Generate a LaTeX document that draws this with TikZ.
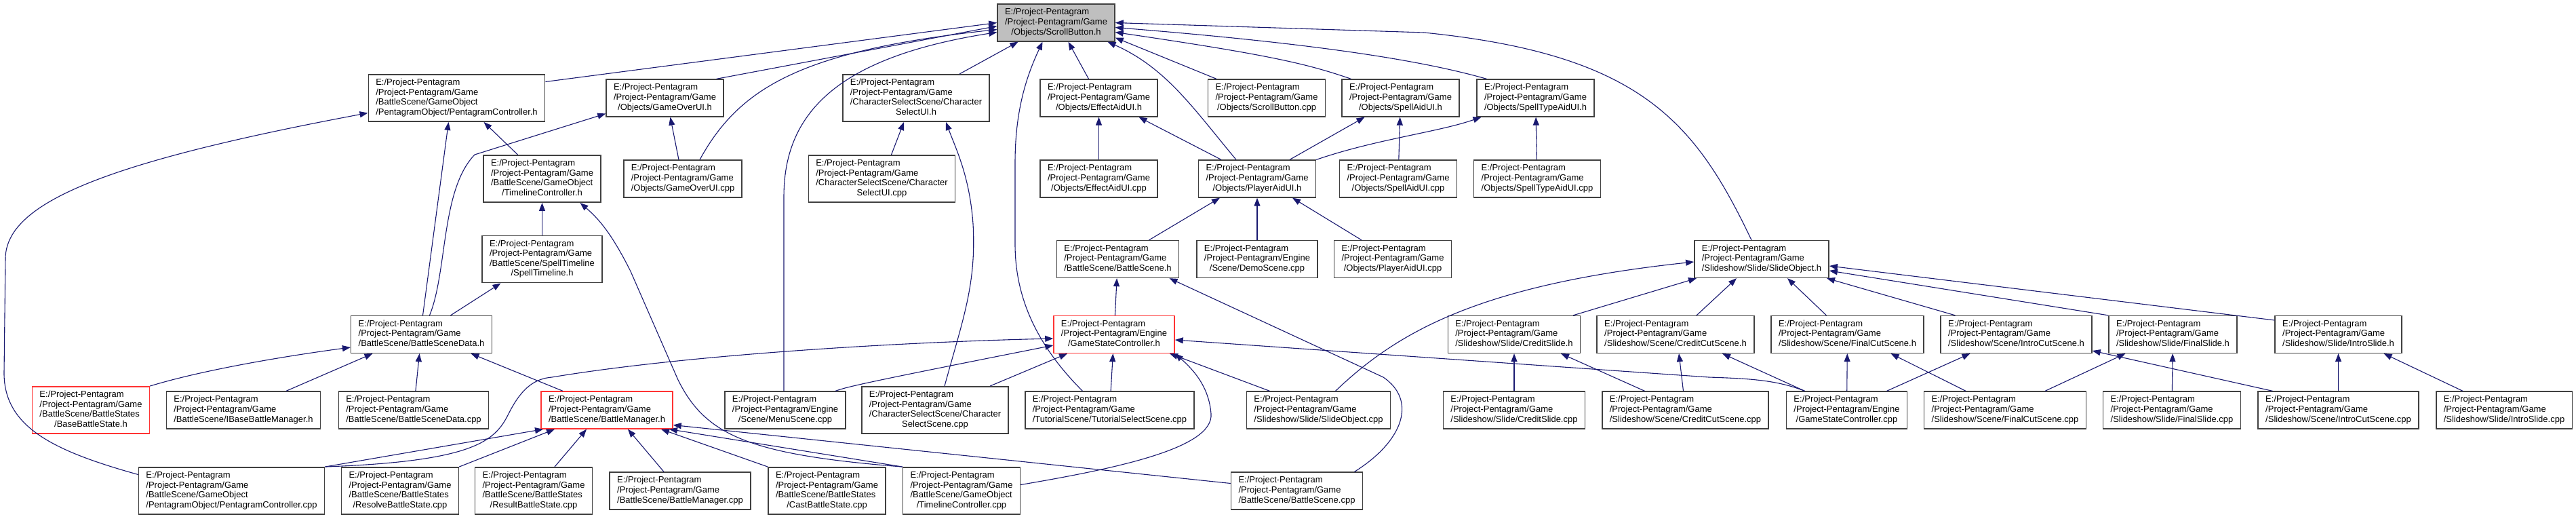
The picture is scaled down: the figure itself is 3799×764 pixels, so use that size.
\documentclass[tikz,border=0pt]{standalone}
\usepackage{fontspec}
\setmainfont{Liberation Sans}
\usetikzlibrary{arrows.meta}

\definecolor{edgeblue}{HTML}{191970}
\definecolor{boxgray}{HTML}{404040}
\definecolor{rootgray}{HTML}{BFBFBF}
\definecolor{boxred}{HTML}{FF3333}

% file label: left-aligned lines, last line centred
\newcommand{\fpath}[2]{\begin{tabular}{@{}l@{}}#1\\\multicolumn{1}{@{}c@{}}{#2}\end{tabular}}
\newcommand{\pgame}{E:/Project-Pentagram\\/Project-Pentagram/Game}
\newcommand{\pengine}{E:/Project-Pentagram\\/Project-Pentagram/Engine}

\begin{document}
\begin{tikzpicture}[
    x=1pt, y=-1pt,
    >={Triangle[length=12pt, width=9pt]},
    filebox/.style={rectangle, draw=boxgray, line width=1.5pt, fill=white,
        inner xsep=11pt, inner ysep=5.5pt, font=\fontsize{13}{14.6}\selectfont},
    rootbox/.style={filebox, fill=rootgray},
    redbox/.style={filebox, draw=boxred},
    incl/.style={->, draw=edgeblue, line width=1.1pt}
]
\useasboundingbox (0,0) rectangle (3799,764);

% row 0
\node[rootbox] (sbh) at (1557.5,33.5) {\fpath{\pgame}{/Objects/ScrollButton.h}};

% row 1
\node[filebox] (pch) at (673.5,144.5) {\fpath{\pgame\\/BattleScene/GameObject}{/PentagramObject/PentagramController.h}};
\node[filebox] (gouh) at (980.5,144.5) {\fpath{\pgame}{/Objects/GameOverUI.h}};
\node[filebox] (csuih) at (1351,144.5) {\fpath{\pgame\\/CharacterSelectScene/Character}{SelectUI.h}};
\node[filebox] (eauh) at (1620.5,144.5) {\fpath{\pgame}{/Objects/EffectAidUI.h}};
\node[filebox] (sbcpp) at (1868,144.5) {\fpath{\pgame}{/Objects/ScrollButton.cpp}};
\node[filebox] (sauh) at (2065.5,144.5) {\fpath{\pgame}{/Objects/SpellAidUI.h}};
\node[filebox] (stauh) at (2264.5,144.5) {\fpath{\pgame}{/Objects/SpellTypeAidUI.h}};

% row 2
\node[filebox] (tch) at (799.5,263.5) {\fpath{\pgame\\/BattleScene/GameObject}{/TimelineController.h}};
\node[filebox] (goucpp) at (1007,263.5) {\fpath{\pgame}{/Objects/GameOverUI.cpp}};
\node[filebox] (csuicpp) at (1300.5,263.5) {\fpath{\pgame\\/CharacterSelectScene/Character}{SelectUI.cpp}};
\node[filebox] (eaucpp) at (1620.5,263.5) {\fpath{\pgame}{/Objects/EffectAidUI.cpp}};
\node[filebox] (pauh) at (1854,263.5) {\fpath{\pgame}{/Objects/PlayerAidUI.h}};
\node[filebox] (saucpp) at (2062,263.5) {\fpath{\pgame}{/Objects/SpellAidUI.cpp}};
\node[filebox] (staucpp) at (2267,263.5) {\fpath{\pgame}{/Objects/SpellTypeAidUI.cpp}};

% row 3
\node[filebox] (sth) at (799.5,382) {\fpath{\pgame\\/BattleScene/SpellTimeline}{/SpellTimeline.h}};
\node[filebox] (bsh) at (1648.5,382) {\fpath{\pgame}{/BattleScene/BattleScene.h}};
\node[filebox] (demo) at (1854,382) {\fpath{\pengine}{/Scene/DemoScene.cpp}};
\node[filebox] (paucpp) at (2054,382) {\fpath{\pgame}{/Objects/PlayerAidUI.cpp}};
\node[filebox] (soh) at (2598,382) {\fpath{\pgame}{/Slideshow/Slide/SlideObject.h}};

% row 4
\node[filebox] (bsdh) at (621.5,493) {\fpath{\pgame}{/BattleScene/BattleSceneData.h}};
\node[redbox] (gsch) at (1643,493) {\fpath{\pengine}{/GameStateController.h}};
\node[filebox] (csh) at (2233,493) {\fpath{\pgame}{/Slideshow/Slide/CreditSlide.h}};
\node[filebox] (ccsh) at (2471,493) {\fpath{\pgame}{/Slideshow/Scene/CreditCutScene.h}};
\node[filebox] (fcsh) at (2724.5,493) {\fpath{\pgame}{/Slideshow/Scene/FinalCutScene.h}};
\node[filebox] (icsh) at (2973.5,493) {\fpath{\pgame}{/Slideshow/Scene/IntroCutScene.h}};
\node[filebox] (fsh) at (3204.5,493) {\fpath{\pgame}{/Slideshow/Slide/FinalSlide.h}};
\node[filebox] (ish) at (3448.5,493) {\fpath{\pgame}{/Slideshow/Slide/IntroSlide.h}};

% row 5
\node[redbox] (bbsh) at (134,604.5) {\fpath{\pgame\\/BattleScene/BattleStates}{/BaseBattleState.h}};
\node[filebox] (ibbmh) at (359,604.5) {\fpath{\pgame}{/BattleScene/IBaseBattleManager.h}};
\node[filebox] (bsdcpp) at (610,604.5) {\fpath{\pgame}{/BattleScene/BattleSceneData.cpp}};
\node[redbox] (bmh) at (895,604.5) {\fpath{\pgame}{/BattleScene/BattleManager.h}};
\node[filebox] (menu) at (1158,604.5) {\fpath{\pengine}{/Scene/MenuScene.cpp}};
\node[filebox] (cssc) at (1379,604.5) {\fpath{\pgame\\/CharacterSelectScene/Character}{SelectScene.cpp}};
\node[filebox] (tss) at (1636.5,604.5) {\fpath{\pgame}{/TutorialScene/TutorialSelectScene.cpp}};
\node[filebox] (socpp) at (1944.5,604.5) {\fpath{\pgame}{/Slideshow/Slide/SlideObject.cpp}};
\node[filebox] (cscpp) at (2233,604.5) {\fpath{\pgame}{/Slideshow/Slide/CreditSlide.cpp}};
\node[filebox] (ccscpp) at (2485.5,604.5) {\fpath{\pgame}{/Slideshow/Scene/CreditCutScene.cpp}};
\node[filebox] (gsccpp) at (2723.5,604.5) {\fpath{\pengine}{/GameStateController.cpp}};
\node[filebox] (fcscpp) at (2957,604.5) {\fpath{\pgame}{/Slideshow/Scene/FinalCutScene.cpp}};
\node[filebox] (fscpp) at (3203,604.5) {\fpath{\pgame}{/Slideshow/Slide/FinalSlide.cpp}};
\node[filebox] (icscpp) at (3448.5,604.5) {\fpath{\pgame}{/Slideshow/Scene/IntroCutScene.cpp}};
\node[filebox] (iscpp) at (3693,604.5) {\fpath{\pgame}{/Slideshow/Slide/IntroSlide.cpp}};

% row 6
\node[filebox] (pccpp) at (341.5,723.5) {\fpath{\pgame\\/BattleScene/GameObject}{/PentagramObject/PentagramController.cpp}};
\node[filebox] (rbs) at (590,723.5) {\fpath{\pgame\\/BattleScene/BattleStates}{/ResolveBattleState.cpp}};
\node[filebox] (resb) at (787,723.5) {\fpath{\pgame\\/BattleScene/BattleStates}{/ResultBattleState.cpp}};
\node[filebox] (bmcpp) at (1003,723.5) {\fpath{\pgame}{/BattleScene/BattleManager.cpp}};
\node[filebox] (cbs) at (1219.5,723.5) {\fpath{\pgame\\/BattleScene/BattleStates}{/CastBattleState.cpp}};
\node[filebox] (tccpp) at (1418,723.5) {\fpath{\pgame\\/BattleScene/GameObject}{/TimelineController.cpp}};
\node[filebox] (bscpp) at (1912.5,723.5) {\fpath{\pgame}{/BattleScene/BattleScene.cpp}};

% into ScrollButton.h
\draw[incl] ([yshift=24pt]pch.east) -- (sbh.west);
\draw[incl] ([xshift=76pt]gouh.north) -- ([yshift=-5pt]sbh.west);
\draw[incl] ([xshift=25pt]goucpp.north) .. controls (1090,130) and (1180,75) .. ([yshift=-10pt]sbh.west);
\draw[incl] ([xshift=-2pt]menu.north) -- (1156,290) .. controls (1156,170) and (1230,85) .. ([yshift=-14pt]sbh.west);
\draw[incl] ([xshift=64pt]csuih.north) -- ([xshift=-56pt]sbh.south);
\draw[incl] ([xshift=-40pt]tss.north) .. controls (1530,510) and (1497,440) .. (1497,360)
    -- (1497,240) .. controls (1497,160) and (1515,110) .. ([xshift=-20pt]sbh.south);
\draw[incl] ([xshift=-15pt]eauh.north) -- ([xshift=18pt]sbh.south);
\draw[incl] ([xshift=-31pt]pauh.north) .. controls (1760,160) and (1720,100) .. ([xshift=76pt]sbh.south);
\draw[incl] ([xshift=-74pt]sbcpp.north) -- ([yshift=-22pt]sbh.east);
\draw[incl] ([xshift=-73pt]sauh.north) .. controls (1930,95) and (1880,82) .. ([yshift=-14pt]sbh.east);
\draw[incl] ([xshift=-72pt]stauh.north) .. controls (2100,90) and (1950,65) .. ([yshift=-7pt]sbh.east);
\draw[incl] ([xshift=-15pt]soh.north) .. controls (2500,180) and (2420,80) .. (2100,48) -- (sbh.east);

% into PentagramController.h
\draw[incl] ([yshift=24pt]pccpp.west) .. controls (80,665) and (6,630) .. (6,550)
    -- (8,380) .. controls (10,300) and (150,240) .. ([yshift=-22pt]pch.west);
\draw[incl] ([xshift=2pt]bsdh.north) -- ([xshift=-12pt]pch.south);
\draw[incl] ([xshift=-36pt]tch.north) -- ([xshift=40pt]pch.south);

% into GameOverUI.h
\draw[incl] ([xshift=-6pt]goucpp.north) -- ([xshift=8pt]gouh.south);
\draw[incl] ([xshift=12pt]bsdh.north) .. controls (660,400) and (650,280) .. (700,228) -- ([yshift=-23pt]gouh.west);

% into TimelineController.h / SpellTimeline.h
\draw[incl] (sth) -- (tch);
\draw[incl] (tccpp.north west) .. controls (1100,670) and (1040,640) .. (1000,560)
    -- (930,400) .. controls (900,340) and (880,320) .. ([xshift=56pt]tch.south);
\draw[incl] ([xshift=43pt]bsdh.north) -- ([xshift=-61pt]sth.south);

% into CharacterSelectUI.h
\draw[incl] ([xshift=14pt]csuicpp.north) -- ([xshift=-18pt]csuih.south);
\draw[incl] ([xshift=14pt]cssc.north) .. controls (1420,470) and (1440,420) .. (1435,330)
    .. controls (1430,260) and (1410,220) .. ([xshift=44pt]csuih.south);

% into the aid UIs
\draw[incl] (eaucpp) -- (eauh);
\draw[incl] ([xshift=-53pt]pauh.north) -- ([xshift=59pt]eauh.south);
\draw[incl] ([xshift=48pt]pauh.north) -- ([xshift=-53pt]sauh.south);
\draw[incl] (saucpp) -- (sauh);
\draw[incl] (pauh.north east) .. controls (2030,205) and (2120,195) .. ([xshift=-80pt]stauh.south);
\draw[incl] (staucpp) -- (stauh);

% into PlayerAidUI.h
\draw[incl] ([xshift=46pt]bsh.north) -- ([xshift=-55pt]pauh.south);
\draw[incl] (demo) -- (pauh);
\draw[incl] ([xshift=-46pt]paucpp.north) -- ([xshift=52pt]pauh.south);

% into BattleScene.h
\draw[incl] (gsch) -- (bsh);
\draw[incl] ([xshift=85pt]bscpp.north) .. controls (2070,650) and (2090,590) .. (2040,556) -- ([xshift=76pt]bsh.south);

% into GameStateController.h
\draw[incl] (pccpp.north east) .. controls (700,680) and (730,650) .. (750,610)
    .. controls (770,570) and (790,558) .. (814,556)
    .. controls (1000,525) and (1300,505) .. ([yshift=-6pt]gsch.west);
\draw[incl] ([xshift=74pt]menu.north) .. controls (1250,570) and (1270,565) .. ([yshift=-16pt]gsch.west);
\draw[incl] ([xshift=81pt]cssc.north) -- ([xshift=-69pt]gsch.south);
\draw[incl] (tss) -- (gsch);
\draw[incl] ([yshift=9pt]tccpp.east) .. controls (1650,690) and (1790,660) .. (1786,610)
    .. controls (1783,570) and (1760,545) .. (gsch.south east);
\draw[incl] ([xshift=-72pt]socpp.north) -- ([xshift=82pt]gsch.south);
\draw[incl] ([xshift=-62pt]gsccpp.north) .. controls (2620,560) and (2580,558) .. (2520,556) -- ([yshift=-8pt]gsch.east);

% into BattleSceneData.h
\draw[incl] (bbsh.north east) .. controls (300,545) and (420,525) .. ([yshift=-19pt]bsdh.west);
\draw[incl] ([xshift=63pt]ibbmh.north) -- ([xshift=-72pt]bsdh.south);
\draw[incl] (bsdcpp) -- (bsdh);
\draw[incl] ([xshift=-65pt]bmh.north) -- ([xshift=73pt]bsdh.south);

% into BattleManager.h
\draw[incl] (pccpp.north east) -- ([xshift=-94pt]bmh.south);
\draw[incl] (rbs.north east) -- ([xshift=-77pt]bmh.south);
\draw[incl] ([xshift=31pt]resb.north) -- ([xshift=-30pt]bmh.south);
\draw[incl] ([xshift=-24pt]bmcpp.north) -- ([xshift=31pt]bmh.south);
\draw[incl] (cbs.north west) -- ([xshift=80pt]bmh.south);
\draw[incl] (tccpp.north west) -- ([xshift=92pt]bmh.south);
\draw[incl] ([yshift=11pt]bscpp.west) -- ([yshift=-22pt]bmh.east);

% into SlideObject.h
\draw[incl] ([xshift=25pt]socpp.north) .. controls (2060,490) and (2180,420) .. ([yshift=-4pt]soh.west);
\draw[incl] ([xshift=87pt]csh.north) -- ([xshift=-96pt]soh.south);
\draw[incl] ([xshift=31pt]ccsh.north) -- ([xshift=-37pt]soh.south);
\draw[incl] ([xshift=-31pt]fcsh.north) -- ([xshift=38pt]soh.south);
\draw[incl] ([xshift=-90pt]icsh.north) -- ([xshift=96pt]soh.south);
\draw[incl] (fsh.north west) -- ([yshift=-17pt]soh.east);
\draw[incl] ([yshift=21pt]ish.west) -- ([yshift=-10pt]soh.east);

% slides and cut scenes
\draw[incl] (cscpp) -- (csh);
\draw[incl] ([xshift=-60pt]ccscpp.north) -- ([xshift=69pt]csh.south);
\draw[incl] ([xshift=-3pt]ccscpp.north) -- ([xshift=5pt]ccsh.south);
\draw[incl] ([xshift=-62pt]gsccpp.north) -- ([xshift=69pt]ccsh.south);
\draw[incl] (gsccpp) -- (fcsh);
\draw[incl] ([xshift=-58pt]fcscpp.north) -- ([xshift=64pt]fcsh.south);
\draw[incl] ([xshift=59pt]gsccpp.north) -- ([xshift=-68pt]icsh.south);
\draw[incl] ([xshift=-97pt]icscpp.north) -- ([yshift=-24pt]icsh.east);
\draw[incl] (fscpp) -- (fsh);
\draw[incl] ([xshift=59pt]fcscpp.north) -- ([xshift=-70pt]fsh.south);
\draw[incl] (icscpp) -- (ish);
\draw[incl] ([xshift=-61pt]iscpp.north) -- ([xshift=67pt]ish.south);

\end{tikzpicture}
\end{document}
